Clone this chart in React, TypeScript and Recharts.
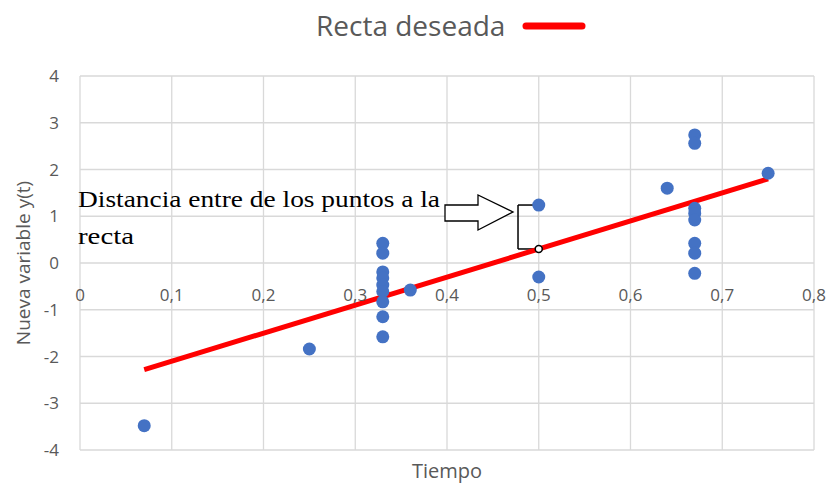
import React from "react";
import {
  ScatterChart,
  Scatter,
  XAxis,
  YAxis,
  CartesianGrid,
  ReferenceLine,
  ReferenceDot,
} from "recharts";

// puntos medidos
const tiempo = [
  0.07, 0.25,
  0.33, 0.33, 0.33, 0.33, 0.33, 0.33, 0.33, 0.33, 0.33,
  0.36, 0.5, 0.5, 0.64,
  0.67, 0.67, 0.67, 0.67, 0.67, 0.67, 0.67, 0.67,
  0.75,
];
const nuevaVariable = [
  -3.48, -1.84,
  0.42, 0.21, -0.19, -0.32, -0.47, -0.61, -0.83, -1.15, -1.58,
  -0.58, 1.24, -0.3, 1.6,
  2.74, 2.56, 1.17, 1.06, 0.92, 0.42, 0.21, -0.22,
  1.92,
];

// recta deseada
const rectaTiempo = [0.07, 0.75];
const rectaValor = [-2.28, 1.8];

const xTicks = [0, 0.1, 0.2, 0.3, 0.4, 0.5, 0.6, 0.7, 0.8];
const yTicks = [-4, -3, -2, -1, 0, 1, 2, 3, 4];

// anotación: corchete entre el punto y la recta
const corcheteX = 0.4774;
const puntoY = 1.24;
const rectaEnPuntoY = 0.3;

const puntos = tiempo.map((t, i) => ({ x: t, y: nuevaVariable[i] }));
const recta = rectaTiempo.map((t, i) => ({ x: t, y: rectaValor[i] }));

const W = 828;
const H = 483;
const PLOT_H = 374;
const GRAY = "#595959";
const FONT = "'Open Sans', sans-serif";
const SERIF = "'Liberation Serif', serif";

const fmt = (v: number) => (v === 0 ? "0" : v.toFixed(1).replace(".", ","));

// etiquetas del eje X dibujadas donde cruza y = 0
const XTick = ({ x, y, payload }: any) => (
  <text
    x={x}
    y={y - PLOT_H / 2 + 29}
    textAnchor="middle"
    dominantBaseline="central"
    fill={GRAY}
    fontSize={17}
    fontFamily={FONT}
  >
    {fmt(payload.value)}
  </text>
);

export default function App() {
  return (
    <div style={{ position: "absolute", left: 0, top: 0, width: W, height: H, background: "#fff" }}>
      <ScatterChart width={W} height={H} margin={{ top: 76, right: 14, bottom: 0, left: 0 }}>
        <CartesianGrid stroke="#d9d9d9" strokeWidth={1.3} />
        <XAxis
          type="number"
          dataKey="x"
          domain={[0, 0.8]}
          ticks={xTicks}
          height={33}
          axisLine={false}
          tickLine={false}
          tickSize={0}
          tick={<XTick />}
          label={({ viewBox }: any) => (
            <text
              x={viewBox.x + viewBox.width / 2}
              y={478}
              textAnchor="middle"
              fill={GRAY}
              fontSize={20}
              fontFamily={FONT}
            >
              Tiempo
            </text>
          )}
        />
        <YAxis
          type="number"
          dataKey="y"
          domain={[-4, 4]}
          ticks={yTicks}
          width={80}
          axisLine={false}
          tickLine={false}
          tickSize={0}
          tickMargin={21}
          tick={{ fill: GRAY, fontSize: 17, fontFamily: FONT }}
          label={({ viewBox }: any) => {
            const cx = 30;
            const cy = viewBox.y + viewBox.height / 2;
            return (
              <text
                x={cx}
                y={cy}
                transform={`rotate(-90 ${cx} ${cy})`}
                textAnchor="middle"
                fill={GRAY}
                fontSize={19}
                fontFamily={FONT}
              >
                Nueva variable y(t)
              </text>
            );
          }}
        />
        <ReferenceLine
          segment={[{ x: corcheteX, y: puntoY }, { x: corcheteX, y: rectaEnPuntoY }]}
          stroke="#000"
          strokeWidth={1.5}
        />
        <ReferenceLine
          segment={[{ x: corcheteX, y: puntoY }, { x: 0.5, y: puntoY }]}
          stroke="#000"
          strokeWidth={1.5}
        />
        <ReferenceLine
          segment={[{ x: corcheteX, y: rectaEnPuntoY }, { x: 0.496, y: rectaEnPuntoY }]}
          stroke="#000"
          strokeWidth={1.5}
        />
        <Scatter
          data={recta}
          fill="#ff0000"
          line={{ stroke: "#ff0000", strokeWidth: 5 }}
          lineType="joint"
          shape={() => <g />}
          isAnimationActive={false}
        />
        <Scatter
          data={puntos}
          fill="#4472c4"
          shape={(p: any) => <circle cx={p.cx} cy={p.cy} r={6.5} fill="#4472c4" />}
          isAnimationActive={false}
        />
        <ReferenceDot x={0.5} y={rectaEnPuntoY} r={3.5} fill="#fff" stroke="#000" strokeWidth={1.5} />
      </ScatterChart>

      {/* leyenda y anotación */}
      <svg width={W} height={H} style={{ position: "absolute", left: 0, top: 0, pointerEvents: "none" }}>
        <text x={316} y={36} fill={GRAY} fontSize={28} fontFamily={FONT}>
          Recta deseada
        </text>
        <line x1={526} y1={26} x2={582} y2={26} stroke="#ff0000" strokeWidth={7} strokeLinecap="round" />

        <text
          x={78}
          y={207}
          fontSize={23.5}
          fontFamily={SERIF}
          fill="#000"
          textLength={362}
          lengthAdjust="spacingAndGlyphs"
        >
          Distancia entre de los puntos a la
        </text>
        <text
          x={78}
          y={244}
          fontSize={23.5}
          fontFamily={SERIF}
          fill="#000"
          textLength={56}
          lengthAdjust="spacingAndGlyphs"
        >
          recta
        </text>
        <polygon
          points="445,205 478,205 478,195 513,212 478,230 478,221 445,221"
          fill="#fff"
          stroke="#000"
          strokeWidth={1.3}
        />
      </svg>
    </div>
  );
}
